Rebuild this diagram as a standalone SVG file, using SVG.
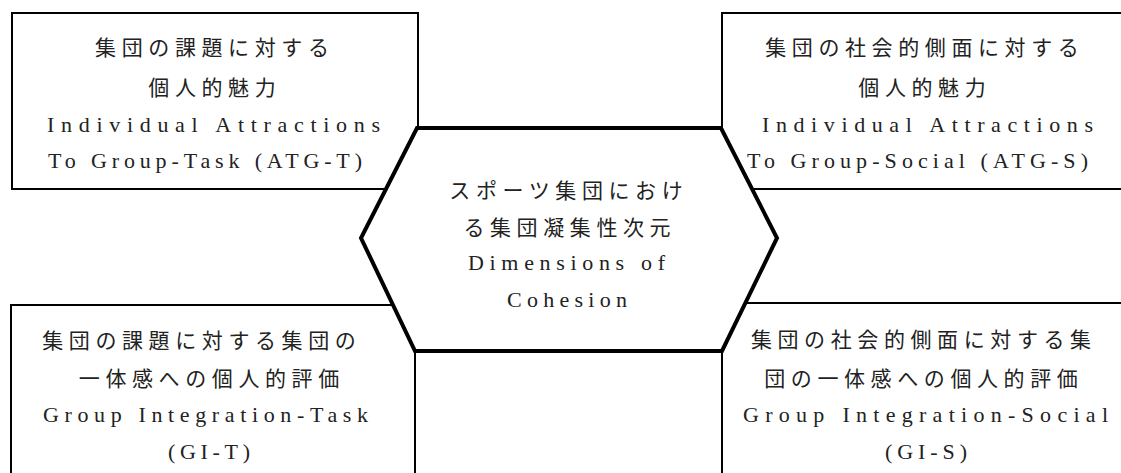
<svg xmlns="http://www.w3.org/2000/svg" width="1121" height="473" viewBox="0 0 1121 473">
<style>
.box{fill:#fff;stroke:#000;stroke-width:2}
.hex{fill:#fff;stroke:#000;stroke-width:4;stroke-linejoin:miter}
.jp{font-family:"Noto Sans CJK JP","Noto Sans CJK SC",sans-serif;font-size:21px;letter-spacing:5.6px;fill:#222;text-anchor:middle}
.en{font-family:"Liberation Serif","DejaVu Serif",serif;font-size:22px;fill:#222}
</style>
<rect width="1121" height="473" fill="#fff"/>
<g id="atg-t">
<rect class="box" x="12" y="13" width="406" height="176"/>
<text class="jp" x="214.8" y="55">集団の課題に対する</text>
<text class="jp" x="214.8" y="95">個人的魅力</text>
<text class="en" x="47" y="132" textLength="333" lengthAdjust="spacing">Individual Attractions</text>
<text class="en" x="48" y="168" textLength="314" lengthAdjust="spacing">To Group-Task (ATG-T)</text>
</g>
<g id="atg-s">
<rect class="box" x="722" y="13" width="420" height="176"/>
<text class="jp" x="924.8" y="55">集団の社会的側面に対する</text>
<text class="jp" x="924.8" y="95">個人的魅力</text>
<text class="en" x="762" y="132" textLength="331" lengthAdjust="spacing">Individual Attractions</text>
<text class="en" x="747" y="168" textLength="341" lengthAdjust="spacing">To Group-Social (ATG-S)</text>
</g>
<g id="gi-t">
<rect class="box" x="11" y="305" width="404" height="200"/>
<text class="jp" x="201.8" y="348">集団の課題に対する集団の</text>
<text class="jp" x="211.8" y="386">一体感への個人的評価</text>
<text class="en" x="43" y="422" textLength="325" lengthAdjust="spacing">Group Integration-Task</text>
<text class="en" x="168" y="459" textLength="82" lengthAdjust="spacing">(GI-T)</text>
</g>
<g id="gi-s">
<rect class="box" x="722" y="303" width="420" height="200"/>
<text class="jp" x="923.8" y="347">集団の社会的側面に対する集</text>
<text class="jp" x="923.8" y="386">団の一体感への個人的評価</text>
<text class="en" x="743" y="422" textLength="365" lengthAdjust="spacing">Group Integration-Social</text>
<text class="en" x="885" y="459" textLength="82" lengthAdjust="spacing">(GI-S)</text>
</g>
<g id="cohesion">
<polygon class="hex" points="417,128 721,128 777,238 722,351 415,351 361,238"/>
<text class="jp" x="568.8" y="198">スポーツ集団におけ</text>
<text class="jp" x="569.8" y="235">る集団凝集性次元</text>
<text class="en" x="468" y="270" textLength="197" lengthAdjust="spacing">Dimensions of</text>
<text class="en" x="507" y="307" textLength="120" lengthAdjust="spacing">Cohesion</text>
</g>
<g id="connectors"></g>
</svg>
